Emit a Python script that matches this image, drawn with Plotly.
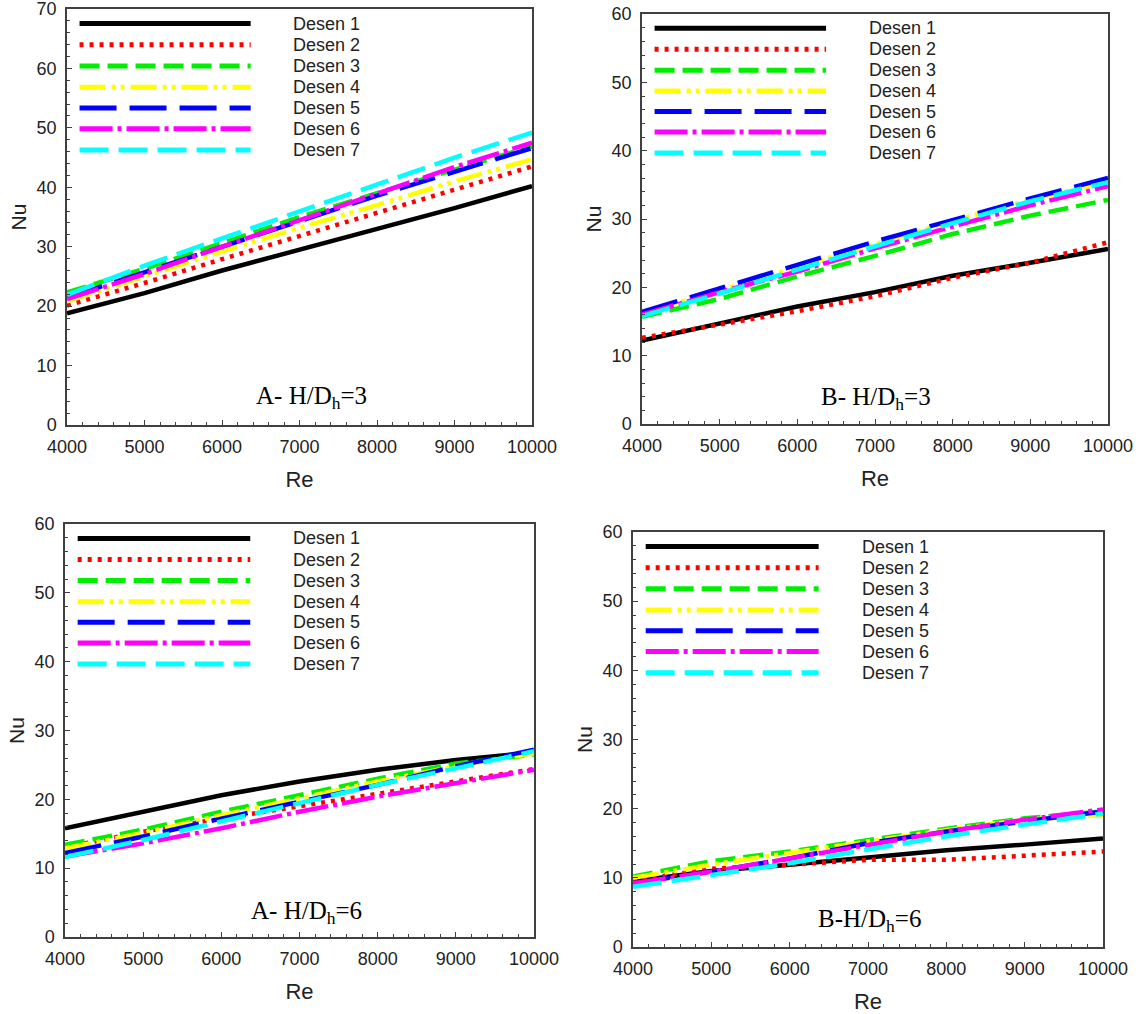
import plotly.graph_objects as go

# ---------------- data ----------------
re_vals = [4000, 5000, 6000, 7000, 8000, 9000, 10000]
series_names = ["Desen 1", "Desen 2", "Desen 3", "Desen 4", "Desen 5", "Desen 6", "Desen 7"]
x_ticks = [4000, 5000, 6000, 7000, 8000, 9000, 10000]

# Panel A - H/Dh=3
a3_d1 = [18.8, 22.2, 26.0, 29.5, 32.9, 36.5, 40.2]
a3_d2 = [20.1, 23.9, 27.9, 31.8, 35.7, 39.6, 43.5]
a3_d3 = [22.3, 26.3, 30.6, 35.0, 39.0, 43.0, 46.9]
a3_d4 = [20.8, 25.0, 29.2, 33.2, 37.0, 41.0, 44.7]
a3_d5 = [21.4, 25.7, 29.9, 34.2, 38.6, 42.6, 46.6]
a3_d6 = [21.2, 25.4, 30.0, 34.5, 39.1, 43.4, 47.5]
a3_d7 = [21.9, 26.8, 31.4, 35.9, 40.6, 45.0, 49.2]

# Panel B - H/Dh=3
b3_d1 = [12.2, 14.7, 17.2, 19.3, 21.7, 23.6, 25.6]
b3_d2 = [12.6, 14.5, 16.5, 18.7, 21.4, 23.6, 26.6]
b3_d3 = [15.7, 18.3, 21.6, 24.6, 27.8, 30.5, 32.8]
b3_d4 = [16.2, 19.6, 23.0, 26.4, 29.7, 32.8, 35.5]
b3_d5 = [16.4, 19.9, 23.3, 26.7, 29.9, 33.0, 36.0]
b3_d6 = [16.0, 19.3, 22.3, 25.7, 28.9, 32.0, 34.8]
b3_d7 = [15.8, 19.1, 22.6, 26.0, 29.4, 32.6, 35.4]

# Panel A - H/Dh=6
a6_d1 = [15.8, 18.2, 20.6, 22.6, 24.3, 25.7, 26.8]
a6_d2 = [13.0, 15.3, 17.2, 19.0, 20.7, 22.5, 24.4]
a6_d3 = [13.4, 15.6, 18.2, 20.6, 23.0, 25.2, 26.5]
a6_d4 = [12.9, 15.1, 17.7, 20.2, 22.6, 24.8, 26.7]
a6_d5 = [12.2, 14.6, 17.2, 19.7, 22.1, 24.8, 27.2]
a6_d6 = [11.7, 13.6, 15.8, 18.2, 20.4, 22.3, 24.3]
a6_d7 = [11.6, 14.1, 16.8, 19.4, 22.1, 24.5, 27.0]

# Panel B - H/Dh=6
b6_d1 = [9.5, 11.0, 11.9, 13.0, 14.0, 14.8, 15.7]
b6_d2 = [9.6, 11.3, 11.9, 12.6, 12.6, 13.2, 13.8]
b6_d3 = [10.2, 12.4, 13.8, 15.5, 17.1, 18.6, 19.6]
b6_d4 = [10.0, 11.9, 13.6, 15.3, 16.9, 18.4, 19.1]
b6_d5 = [9.2, 10.9, 12.8, 15.0, 16.7, 18.1, 19.6]
b6_d6 = [9.2, 10.9, 12.8, 14.8, 16.7, 18.4, 19.9]
b6_d7 = [8.7, 10.4, 12.1, 14.1, 16.0, 17.7, 19.3]

panel_labels = ["A- H/D<sub>h</sub>=3", "B- H/D<sub>h</sub>=3",
                "A- H/D<sub>h</sub>=6", "B-H/D<sub>h</sub>=6"]
panel_ymax = [70, 60, 60, 60]

# ---------------- styles / layout ----------------
colors = ["#000000", "#ff0000", "#00ee00", "#ffff00", "#0000ff", "#ff00ff", "#00ffff"]
dashes = ["solid", "4px,6px", "20px,8px", "26px,6px,4px,5px,4px,6px",
          "37px,13px", "33px,5px,4px,5px", "29px,10px"]

panels_data = [
    [a3_d1, a3_d2, a3_d3, a3_d4, a3_d5, a3_d6, a3_d7],
    [b3_d1, b3_d2, b3_d3, b3_d4, b3_d5, b3_d6, b3_d7],
    [a6_d1, a6_d2, a6_d3, a6_d4, a6_d5, a6_d6, a6_d7],
    [b6_d1, b6_d2, b6_d3, b6_d4, b6_d5, b6_d6, b6_d7],
]

W, H = 1140, 1014
# pixel boxes (left, right, top, bottom)
boxes = [(67, 532, 9, 425), (642, 1108, 14, 424), (65, 534, 524, 937), (633, 1103, 532, 947)]
label_pos = [(0.525, 0.067), (0.502, 0.061), (0.514, 0.060), (0.503, 0.065)]

leg_rows = [0.965, 0.914, 0.863, 0.812, 0.762, 0.712, 0.661]
leg_x0, leg_x1, leg_tx = 0.027, 0.395, 0.482

sans = "Liberation Sans, Arial, sans-serif"
serif = "Liberation Serif, Times New Roman, serif"
txt_col = "#222222"
axis_col = "#404040"

fig = go.Figure()
layout = dict(
    width=W, height=H,
    margin=dict(l=0, r=0, t=0, b=0, autoexpand=False),
    paper_bgcolor="white", plot_bgcolor="white",
    showlegend=False,
    shapes=[], annotations=[],
)

for p, series in enumerate(panels_data):
    n = "" if p == 0 else str(p + 1)
    xa, ya = "x" + n, "y" + n
    for s, vals in enumerate(series):
        fig.add_trace(go.Scatter(
            x=re_vals, y=vals, xaxis=xa, yaxis=ya, mode="lines",
            name=series_names[s],
            line=dict(color=colors[s], width=4.5, dash=dashes[s]),
        ))
    l, r, t, b = boxes[p]
    common = dict(
        ticks="inside", ticklen=5, tickwidth=1.2, tickcolor=axis_col,
        showline=True, mirror=True, linecolor=axis_col, linewidth=1.5,
        showgrid=False, zeroline=False, automargin=False,
        ticklabeloverflow="allow",
        tickfont=dict(family=sans, size=18, color=txt_col),
    )
    layout["xaxis" + n] = dict(
        domain=[l / W, r / W], anchor=ya, range=[4000, 10000],
        tickvals=x_ticks, tickformat="d", ticklabelstandoff=5,
        minor=dict(ticks="inside", ticklen=3, dtick=200, tick0=4000, tickcolor=axis_col, tickwidth=1),
        title=dict(text="Re", font=dict(family=sans, size=22, color=txt_col), standoff=15),
        **common,
    )
    layout["yaxis" + n] = dict(
        domain=[1 - b / H, 1 - t / H], anchor=xa, range=[0, panel_ymax[p]],
        dtick=10, tick0=0, ticklabelstandoff=5,
        minor=dict(ticks="inside", ticklen=3, dtick=2, tick0=0, tickcolor=axis_col, tickwidth=1),
        title=dict(text="Nu", font=dict(family=sans, size=21, color=txt_col), standoff=4),
        **common,
    )
    xd, yd = xa + " domain", ya + " domain"
    for s in range(len(series)):
        layout["shapes"].append(dict(
            type="line", xref=xd, yref=yd, x0=leg_x0, x1=leg_x1,
            y0=leg_rows[s], y1=leg_rows[s],
            line=dict(color=colors[s], width=5, dash=dashes[s]),
        ))
        layout["annotations"].append(dict(
            xref=xd, yref=yd, x=leg_tx, y=leg_rows[s], xanchor="left", yanchor="middle",
            text=series_names[s], showarrow=False,
            font=dict(family=sans, size=18, color=txt_col),
        ))
    lx, ly = label_pos[p]
    layout["annotations"].append(dict(
        xref=xd, yref=yd, x=lx, y=ly, xanchor="center", yanchor="middle",
        text=panel_labels[p], showarrow=False,
        font=dict(family=serif, size=25, color="#000000"),
    ))

fig.update_layout(**layout)
fig.write_html("out.html", config={"displayModeBar": False},
               post_script="document.body.style.margin='0';")
